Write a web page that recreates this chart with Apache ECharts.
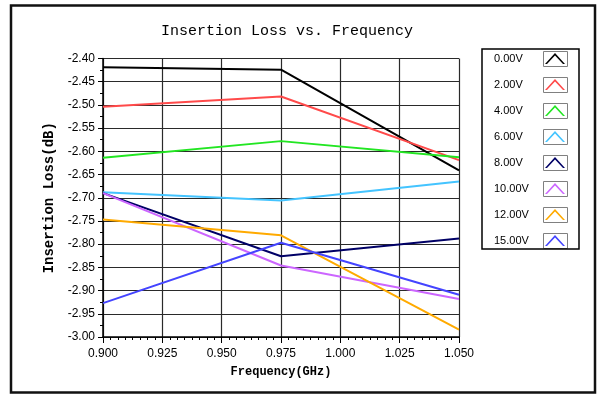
<!DOCTYPE html>
<html>
<head>
<meta charset="utf-8">
<script src="https://cdn.jsdelivr.net/npm/echarts@6/dist/echarts.min.js"></script>
<style>
  html, body { margin: 0; padding: 0; background: #fff; }
  #chart { width: 602px; height: 396px; }
</style>
</head>
<body>
<div id="chart"></div>
<script>
// frequency points (GHz)
const freq = [0.900, 0.975, 1.050]

// insertion loss (dB) per bias voltage
const v0 = [-2.419, -2.424, -2.641]
const v2 = [-2.504, -2.482, -2.619]
const v4 = [-2.614, -2.578, -2.613]
const v6 = [-2.688, -2.706, -2.665]
const v8 = [-2.690, -2.826, -2.788]
const v10 = [-2.690, -2.846, -2.918]
const v12 = [-2.747, -2.781, -2.984]
const v15 = [-2.927, -2.797, -2.909]

const names = ['0.00V', '2.00V', '4.00V', '6.00V', '8.00V', '10.00V', '12.00V', '15.00V']
const values = [v0, v2, v4, v6, v8, v10, v12, v15]
const colors = ['#000000', '#ff4a4a', '#22e622', '#44c4ff', '#000066', '#cc66ff', '#ffaa00', '#4444ff']

const mono = '"Liberation Mono", monospace'
const sans = '"Liberation Sans", sans-serif'

// legend layout
const legLeft = 482, legTop = 49, padTop = 2, step = 26
const caret = 'path://M0,11 L10,0 L20,11 L18,11 L10,2.4 L2,11 Z'

const boxes = names.map((n, i) => ({
    type: 'rect',
    shape: {x: 543.5, y: legTop + padTop + i * step + 0.5, width: 24, height: 15},
    style: {fill: 'none', stroke: '#808080', lineWidth: 1},
    z: 1
}))

const option = {
    animation: false,
    backgroundColor: '#fff',
    title: {
        text: 'Insertion Loss vs. Frequency',
        left: 161,
        top: 24,
        padding: 0,
        textStyle: {fontFamily: mono, fontSize: 15, fontWeight: 'normal', color: '#000'}
    },
    legend: {
        orient: 'vertical',
        left: legLeft,
        top: legTop,
        padding: [padTop, 14, 1, 12],
        itemGap: step - 15,
        itemWidth: 20,
        itemHeight: 11,
        align: 'right',
        icon: caret,
        borderColor: '#000',
        borderWidth: 1.5,
        borderRadius: 0,
        data: names,
        formatter: n => '{a|' + n + '}',
        textStyle: {
            fontFamily: sans, fontSize: 11, color: '#000', lineHeight: 15,
            rich: {a: {width: 46, align: 'left', fontFamily: sans, fontSize: 11, color: '#000', lineHeight: 15}}
        }
    },
    grid: {left: 103, top: 58.5, right: 143, bottom: 59},
    xAxis: {
        type: 'value',
        min: 0.9,
        max: 1.05,
        interval: 0.025,
        name: 'Frequency(GHz)',
        nameLocation: 'middle',
        nameGap: 29,
        nameTextStyle: {fontFamily: mono, fontSize: 12, fontWeight: 'bold', color: '#000'},
        axisLine: {lineStyle: {color: '#000', width: 1.5}},
        axisTick: {length: 6, lineStyle: {color: '#000'}},
        minorTick: {show: true, splitNumber: 8, length: 3, lineStyle: {color: '#000'}},
        axisLabel: {
            margin: 11,
            fontFamily: sans,
            fontSize: 12,
            color: '#000',
            formatter: v => v.toFixed(3)
        },
        splitLine: {lineStyle: {color: '#2a2a2a', width: 1.2}}
    },
    yAxis: {
        type: 'value',
        min: -3,
        max: -2.4,
        interval: 0.05,
        name: 'Insertion Loss(dB)',
        nameLocation: 'middle',
        nameGap: 36,
        nameRotate: 90,
        nameTextStyle: {fontFamily: mono, fontSize: 14, fontWeight: 'bold', color: '#000'},
        axisLine: {show: true, lineStyle: {color: '#000', width: 1.5}},
        axisTick: {show: true, length: 5, lineStyle: {color: '#000'}},
        minorTick: {show: true, splitNumber: 2, length: 3, lineStyle: {color: '#000'}},
        axisLabel: {
            margin: 8,
            fontFamily: sans,
            fontSize: 12,
            color: '#000',
            formatter: v => v.toFixed(2)
        },
        splitLine: {lineStyle: {color: '#2a2a2a', width: 1.2}}
    },
    graphic: [
        {
            type: 'rect',
            shape: {x: 11, y: 5.5, width: 584, height: 387},
            style: {fill: 'none', stroke: '#111', lineWidth: 2.5},
            z: 1
        }
    ].concat(boxes),
    series: names.map((n, i) => ({
        name: n,
        type: 'line',
        data: freq.map((f, j) => [f, values[i][j]]),
        symbol: 'none',
        color: colors[i],
        lineStyle: {width: 2, color: colors[i]}
    }))
}

const myChart = echarts.init(document.getElementById('chart'))
myChart.setOption(option)
</script>
</body>
</html>
